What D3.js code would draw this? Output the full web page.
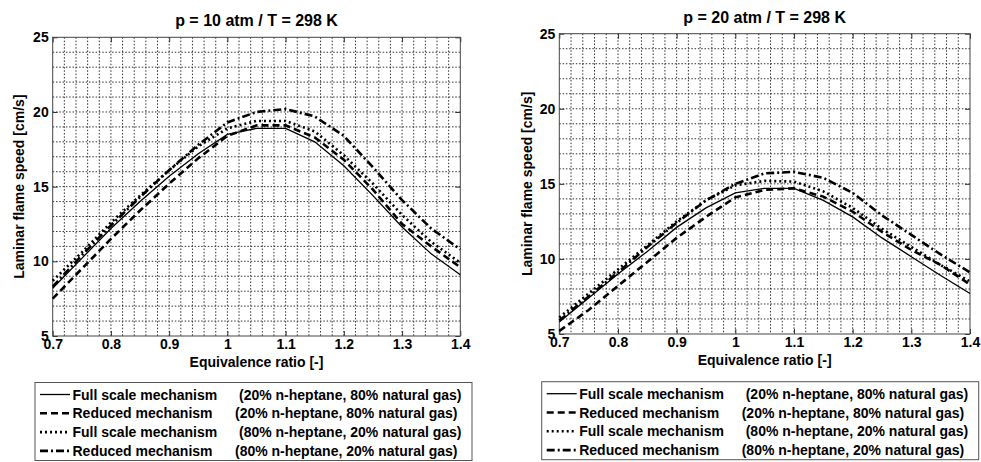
<!DOCTYPE html>
<html>
<head>
<meta charset="utf-8">
<script src="https://cdnjs.cloudflare.com/ajax/libs/d3/7.8.5/d3.min.js"></script>
<style>
  body { margin: 0; background: #fff; }
  svg text { font-family: "Liberation Sans", Arial, sans-serif; font-weight: bold; fill: #000; }
</style>
</head>
<body>
<script>
// equivalence ratio samples
const phi = [0.70, 0.75, 0.80, 0.85, 0.90, 0.95, 1.00, 1.05, 1.10, 1.15, 1.20, 1.25, 1.30, 1.35, 1.40];

// p = 10 atm
const p10Full20 = [8.2, 10.2, 12.2, 14.0, 15.7, 17.2, 18.5, 18.9, 18.9, 18.0, 16.4, 14.4, 12.3, 10.5, 9.1];
const p10Red20  = [7.5, 9.5, 11.5, 13.4, 15.2, 16.9, 18.4, 19.1, 19.1, 18.3, 16.8, 14.8, 12.5, 11.0, 9.6];
const p10Full80 = [8.7, 10.6, 12.6, 14.4, 16.1, 17.7, 18.9, 19.4, 19.4, 18.7, 17.1, 15.2, 13.1, 11.3, 9.9];
const p10Red80  = [8.3, 10.4, 12.4, 14.3, 16.1, 17.8, 19.3, 20.0, 20.2, 19.7, 18.4, 16.3, 14.1, 12.2, 10.8];

// p = 20 atm
const p20Full20 = [5.8, 7.4, 9.0, 10.5, 12.1, 13.4, 14.4, 14.7, 14.7, 13.9, 12.8, 11.4, 10.15, 8.9, 7.7];
const p20Red20  = [5.2, 6.6, 8.2, 9.8, 11.4, 12.8, 14.1, 14.6, 14.7, 14.15, 13.15, 11.8, 10.6, 9.6, 8.3];
const p20Full80 = [6.1, 7.7, 9.3, 10.9, 12.5, 13.9, 14.9, 15.2, 15.15, 14.5, 13.4, 12.0, 10.8, 9.6, 8.5];
const p20Red80  = [5.9, 7.5, 9.1, 10.8, 12.4, 13.9, 15.0, 15.7, 15.8, 15.4, 14.4, 12.9, 11.6, 10.3, 9.1];

const xTicks = [0.7, 0.8, 0.9, 1.0, 1.1, 1.2, 1.3, 1.4];
const yTicks = [5, 10, 15, 20, 25];

const legendNames = ["Full scale mechanism", "Reduced mechanism", "Full scale mechanism", "Reduced mechanism"];
const legendMix = ["(20% n-heptane, 80% natural gas)", "(20% n-heptane, 80% natural gas)",
                   "(80% n-heptane, 20% natural gas)", "(80% n-heptane, 20% natural gas)"];

// line styles: solid, dashed, dotted, dash-dot
const styles = [
  { w: 1.3, dash: null },
  { w: 2.6, dash: "7,4" },
  { w: 2.6, dash: "2,3" },
  { w: 2.6, dash: "8,3,2,3" }
];

const W = 981, H = 462;
const svg = d3.select("body").append("svg").attr("width", W).attr("height", H);

function panel(cfg) {
  const x = d3.scaleLinear().domain([0.7, 1.4]).range([cfg.left, cfg.right]);
  const y = d3.scaleLinear().domain([5, 25]).range([cfg.bottom, cfg.top]);
  const g = svg.append("g");

  // dotted grid
  g.selectAll(".gx").data(d3.range(0.72, 1.39, 0.02)).enter().append("line")
    .attr("x1", d => x(d)).attr("x2", d => x(d))
    .attr("y1", cfg.top).attr("y2", cfg.bottom)
    .attr("stroke", "#333").attr("stroke-width", 1).attr("stroke-dasharray", "1.5,1.8");
  g.selectAll(".gy").data(d3.range(6, 25, 1)).enter().append("line")
    .attr("y1", d => y(d)).attr("y2", d => y(d))
    .attr("x1", cfg.left).attr("x2", cfg.right)
    .attr("stroke", "#333").attr("stroke-width", 1).attr("stroke-dasharray", "1.5,1.8");

  // axes with inward ticks
  const xa = g.append("g").attr("transform", "translate(0," + cfg.bottom + ")")
    .call(d3.axisBottom(x).tickValues(xTicks).tickSizeInner(-5).tickSizeOuter(0).tickPadding(3)
      .tickFormat(d3.format(".1~f")));
  const ya = g.append("g").attr("transform", "translate(" + cfg.left + ",0)")
    .call(d3.axisLeft(y).tickValues(yTicks).tickSizeInner(-5).tickSizeOuter(0).tickPadding(4));
  const xt = g.append("g").attr("transform", "translate(0," + cfg.top + ")")
    .call(d3.axisTop(x).tickValues(xTicks).tickSizeInner(-5).tickSizeOuter(0).tickFormat(""));
  const yr = g.append("g").attr("transform", "translate(" + cfg.right + ",0)")
    .call(d3.axisRight(y).tickValues(yTicks).tickSizeInner(-5).tickSizeOuter(0).tickFormat(""));
  [xa, ya, xt, yr].forEach(a => {
    a.select(".domain").remove();
    a.selectAll("line").attr("stroke", "#333");
    a.selectAll("text").attr("font-size", 14).attr("font-family", null);
  });

  g.append("rect")
    .attr("x", cfg.left).attr("y", cfg.top)
    .attr("width", cfg.right - cfg.left).attr("height", cfg.bottom - cfg.top)
    .attr("fill", "none").attr("stroke", "#444").attr("stroke-width", 1);

  const line = d3.line().x(d => x(d[0])).y(d => y(d[1]));
  cfg.series.forEach((s, i) => {
    g.append("path")
      .datum(phi.map((p, k) => [p, s[k]]))
      .attr("d", line)
      .attr("fill", "none")
      .attr("stroke", "#000")
      .attr("stroke-width", styles[i].w)
      .attr("stroke-dasharray", styles[i].dash);
  });

  // titles
  g.append("text").attr("x", (cfg.left + cfg.right) / 2).attr("y", cfg.titleY)
    .attr("text-anchor", "middle").attr("font-size", 16).text(cfg.title);
  g.append("text").attr("x", (cfg.left + cfg.right) / 2).attr("y", cfg.bottom + 31)
    .attr("text-anchor", "middle").attr("font-size", 14).text("Equivalence ratio [-]");
  g.append("text")
    .attr("transform", "translate(" + cfg.ylabX + "," + ((cfg.top + cfg.bottom) / 2) + ") rotate(-90)")
    .attr("text-anchor", "middle").attr("font-size", 14).text("Laminar flame speed [cm/s]");

  // legend
  const L = cfg.legend;
  g.append("rect").attr("x", L.x).attr("y", L.y).attr("width", L.w).attr("height", 78)
    .attr("fill", "#fff").attr("stroke", "#555").attr("stroke-width", 1);
  legendNames.forEach((n, i) => {
    const ry = L.y + 17 + i * 18.8;
    g.append("line").attr("x1", L.x + 5).attr("x2", L.x + 35)
      .attr("y1", ry - 5).attr("y2", ry - 5)
      .attr("stroke", "#000").attr("stroke-width", styles[i].w)
      .attr("stroke-dasharray", styles[i].dash);
    g.append("text").attr("x", L.x + 37.5).attr("y", ry).attr("font-size", 14).text(n);
    g.append("text").attr("x", L.x + (i % 2 === 0 ? 204 : 200)).attr("y", ry).attr("font-size", 14).text(legendMix[i]);
  });
}

panel({
  left: 52.7, right: 460.3, top: 37.3, bottom: 336,
  title: "p = 10 atm / T = 298 K", titleY: 25.5, ylabX: 24,
  series: [p10Full20, p10Red20, p10Full80, p10Red80],
  legend: { x: 35, y: 382.5, w: 437 }
});
panel({
  left: 559.3, right: 970, top: 33.7, bottom: 334,
  title: "p = 20 atm / T = 298 K", titleY: 23, ylabX: 532,
  series: [p20Full20, p20Red20, p20Full80, p20Red80],
  legend: { x: 541.7, y: 381.7, w: 437 }
});
</script>
</body>
</html>
